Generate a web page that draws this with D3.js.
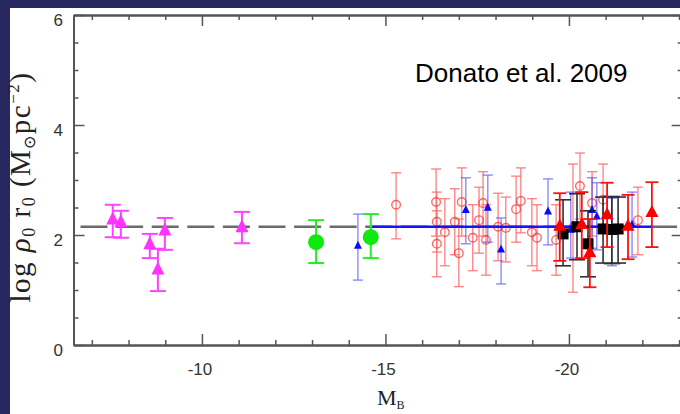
<!DOCTYPE html>
<html><head><meta charset="utf-8">
<script src="https://cdn.jsdelivr.net/npm/d3@7"></script>
<style>html,body{margin:0;padding:0;background:#fff;overflow:hidden}</style>
</head><body><svg id="c" width="680" height="414"></svg>
<script>
// ---------- data (M_B, log rho0 r0, lower, upper) ----------
const magentaPts = [[-7.57,2.27,1.96,2.55],[-7.79,2.22,1.95,2.44],[-8.58,1.82,1.58,2.02],[-8.80,1.36,0.98,1.75],[-8.99,2.07,1.73,2.31],[-11.09,2.13,1.85,2.42]];
const greenPts = [[-13.11,1.87,1.49,2.27],[-14.60,1.96,1.58,2.38]];
const blueTriPts = [[-14.25,1.80,1.18,2.38],[-17.19,2.45,1.84,3.04],[-17.79,2.49,1.87,3.09],[-18.15,1.73,1.11,2.31],[-19.43,2.42,1.82,3.02],[-20.05,2.09,1.58,2.78],[-20.63,2.45,1.76,3.04],[-20.76,2.33,1.73,2.95],[-21.17,2.05,1.44,2.67],[-21.72,2.18,1.60,2.78]];
const redCirclePts = [[-15.29,2.55,1.93,3.13],[-16.38,2.60,1.98,3.20],[-16.40,2.24,1.69,2.78],[-16.40,1.84,1.24,2.44],[-16.62,2.05,1.44,2.66],[-16.89,2.24,1.64,2.84],[-17.00,1.67,1.06,2.29],[-17.08,2.60,1.98,3.22],[-17.38,1.95,1.35,2.55],[-17.55,2.27,1.67,2.87],[-17.66,2.58,1.98,3.15],[-17.74,1.91,1.27,2.55],[-18.07,2.15,1.53,2.76],[-18.28,2.13,1.51,2.69],[-18.56,2.47,1.87,3.07],[-18.69,2.62,2.04,3.22],[-18.99,2.05,1.44,2.66],[-19.13,1.95,1.35,2.55],[-19.65,1.91,1.27,2.55],[-20.11,2.13,0.96,3.29],[-20.30,2.89,2.29,3.49],[-20.63,2.58,1.98,3.15],[-20.93,2.64,2.04,3.29],[-21.88,2.27,1.64,2.87]];
const redTriPts = [[-19.75,2.15,1.53,2.76],[-20.35,2.18,1.58,2.78],[-20.57,1.67,1.05,2.29],[-21.04,2.36,1.78,2.95],[-21.61,2.15,1.56,2.73],[-22.26,2.40,1.78,2.96]];
const blackSqPts = [[-19.84,2.02,1.44,2.64],[-20.22,2.15,1.55,2.75],[-20.52,1.84,1.24,2.44],[-20.93,2.11,1.49,2.69],[-21.17,2.10,1.48,2.70],[-21.34,2.11,1.49,2.69]];
const meanLevel = 2.15;
const fitRange = [-14.64, -22.29];
// ---------- axes ----------
const xDomain = [-6.5, -23.1];
const yDomain = [0, 6];
const xMajor = [-10, -15, -20];
const xMajorLabels = ["-10", "-15", "-20"];
const xMinor = [-7,-8,-9,-11,-12,-13,-14,-16,-17,-18,-19,-21,-22,-23];
const yMajor = [0, 2, 4, 6];
const yMajorLabels = ["0", "2", "4", "6"];
const yMinor = [0.5,1,1.5,2.5,3,3.5,4.5,5,5.5];
const annotation = "Donato et al. 2009";

const svg = d3.select("#c");
const L = 73.5, R = 682.7, T = 15, B = 345;
const x = d3.scaleLinear().domain(xDomain).range([L, R]);
const y = d3.scaleLinear().domain(yDomain).range([B, T]);

// background
svg.append("rect").attr("width", 680).attr("height", 414).attr("fill", "#fff");
svg.append("rect").attr("x", 0).attr("y", 0).attr("width", 680).attr("height", 8).attr("fill", "#26285f");
svg.append("rect").attr("x", 0).attr("y", 0).attr("width", 10).attr("height", 414).attr("fill", "#26285f");

// dashed mean line
svg.append("line").attr("x1", L).attr("x2", R).attr("y1", y(meanLevel)).attr("y2", y(meanLevel))
  .attr("stroke", "#6a6a6a").attr("stroke-width", 2.6)
  .attr("stroke-dasharray", "27,8.6").attr("stroke-dashoffset", 28.6);

function errBars(g, data, color, cw, sw, op) {
  const gg = g.append("g").attr("stroke", color).attr("stroke-width", sw).attr("opacity", op).attr("fill", "none");
  data.forEach(d => {
    const cx = x(d[0]);
    gg.append("line").attr("x1", cx).attr("x2", cx).attr("y1", y(d[2])).attr("y2", y(d[3]));
    gg.append("line").attr("x1", cx - cw).attr("x2", cx + cw).attr("y1", y(d[2])).attr("y2", y(d[2]));
    gg.append("line").attr("x1", cx - cw).attr("x2", cx + cw).attr("y1", y(d[3])).attr("y2", y(d[3]));
  });
}
function triPath(cx, cy, w, h) {
  return `M${cx},${cy - 2*h/3}L${cx + w/2},${cy + h/3}L${cx - w/2},${cy + h/3}Z`;
}
const g = svg.append("g");

// light red circles
errBars(g, redCirclePts, "#ff2a2a", 5, 1.2, 0.65);
g.append("g").selectAll("circle").data(redCirclePts).join("circle")
  .attr("cx", d => x(d[0])).attr("cy", d => y(d[1])).attr("r", 4.3)
  .attr("fill", "none").attr("stroke", "#ff2a2a").attr("stroke-width", 1.4).attr("opacity", 0.7);
// light blue bars
errBars(g, blueTriPts, "#3030ff", 5, 1.2, 0.65);

// blue fit line
g.append("line").attr("x1", x(fitRange[0])).attr("x2", x(fitRange[1]))
  .attr("y1", y(meanLevel)).attr("y2", y(meanLevel))
  .attr("stroke", "#1414ff").attr("stroke-width", 2.6);

// blue triangles
g.append("g").selectAll("path").data(blueTriPts).join("path")
  .attr("d", d => triPath(x(d[0]), y(d[1]), 8, 8)).attr("fill", "#0a0aff");

// black squares
errBars(g, blackSqPts, "#1a1a1a", 8, 1.6, 0.9);
g.append("g").selectAll("rect").data(blackSqPts).join("rect")
  .attr("x", d => x(d[0]) - 5.5).attr("y", d => y(d[1]) - 5.5).attr("width", 11).attr("height", 11)
  .attr("fill", "#000");

// red filled triangles
errBars(g, redTriPts, "#ff1010", 6.5, 1.8, 1);
g.append("g").selectAll("path").data(redTriPts).join("path")
  .attr("d", d => triPath(x(d[0]), y(d[1]), 13, 12)).attr("fill", "#ff0000");

// magenta triangles
errBars(g, magentaPts, "#ff44ff", 8, 2, 1);
g.append("g").selectAll("path").data(magentaPts).join("path")
  .attr("d", d => triPath(x(d[0]), y(d[1]), 13, 13)).attr("fill", "#ff33ff");

// green circles
errBars(g, greenPts, "#22ee22", 8, 2, 1);
g.append("g").selectAll("circle").data(greenPts).join("circle")
  .attr("cx", d => x(d[0])).attr("cy", d => y(d[1])).attr("r", 8).attr("fill", "#10e810");

// axes
function styleAxis(sel) {
  sel.selectAll("path").attr("stroke", "#555").attr("stroke-width", 2);
  sel.selectAll("line").attr("stroke", "#555").attr("stroke-width", 1.5);
  sel.selectAll("text").remove();
}
const ax = svg.append("g");
[[d3.axisBottom, `translate(0,${B})`, x, xMajor, xMinor],
 [d3.axisTop, `translate(0,${T})`, x, xMajor, xMinor],
 [d3.axisLeft, `translate(${L},0)`, y, yMajor, yMinor],
 [d3.axisRight, `translate(${R},0)`, y, yMajor, yMinor]].forEach(([fn, tr, sc, maj, min]) => {
  ax.append("g").attr("transform", tr).call(fn(sc).tickValues(min).tickSize(-5).tickSizeOuter(0)).call(styleAxis);
  ax.append("g").attr("transform", tr).call(fn(sc).tickValues(maj).tickSize(-11).tickSizeOuter(0)).call(styleAxis);
});

// tick labels
svg.append("g").selectAll("text").data(xMajor).join("text")
  .attr("x", d => x(d) - 2).attr("y", 375).attr("text-anchor", "middle")
  .attr("font-family", "Liberation Sans, Arial, sans-serif").attr("font-size", 17).attr("fill", "#333")
  .text((d, i) => xMajorLabels[i]);
svg.append("g").selectAll("text").data(yMajor).join("text")
  .attr("x", 63).attr("y", d => y(d) + 11).attr("text-anchor", "end")
  .attr("font-family", "Liberation Sans, Arial, sans-serif").attr("font-size", 17).attr("fill", "#333")
  .text((d, i) => yMajorLabels[i]);

// axis titles
const xt = svg.append("text").attr("x", 377).attr("y", 405)
  .attr("font-family", "Liberation Serif, Times New Roman, serif").attr("font-size", 22).attr("fill", "#222");
xt.append("tspan").text("M");
xt.append("tspan").attr("font-size", 12).attr("dy", 4).text("B");

const yt = svg.append("text").attr("transform", "translate(30,187) rotate(-90)").attr("text-anchor", "middle")
  .attr("font-family", "Liberation Serif, Times New Roman, serif").attr("font-size", 29)
  .attr("letter-spacing", 1.5).attr("fill", "#222");
yt.append("tspan").text("log ");
yt.append("tspan").attr("font-style", "italic").text("ρ");
yt.append("tspan").attr("font-size", 18).attr("dy", 5).text("0");
yt.append("tspan").attr("dy", -5).text(" r");
yt.append("tspan").attr("font-size", 18).attr("dy", 5).text("0");
yt.append("tspan").attr("dy", -5).text(" (M");
yt.append("tspan").attr("font-size", 16).attr("dy", 5).text("⊙");
yt.append("tspan").attr("dy", -5).text("pc");
yt.append("tspan").attr("font-size", 17).attr("dy", -11).text("−2");
yt.append("tspan").attr("dy", 11).text(")");

// annotation
svg.append("text").attr("x", 415).attr("y", 82)
  .attr("font-family", "Liberation Sans, Arial, sans-serif").attr("font-size", 26).attr("fill", "#000")
  .text(annotation);
</script></body></html>
